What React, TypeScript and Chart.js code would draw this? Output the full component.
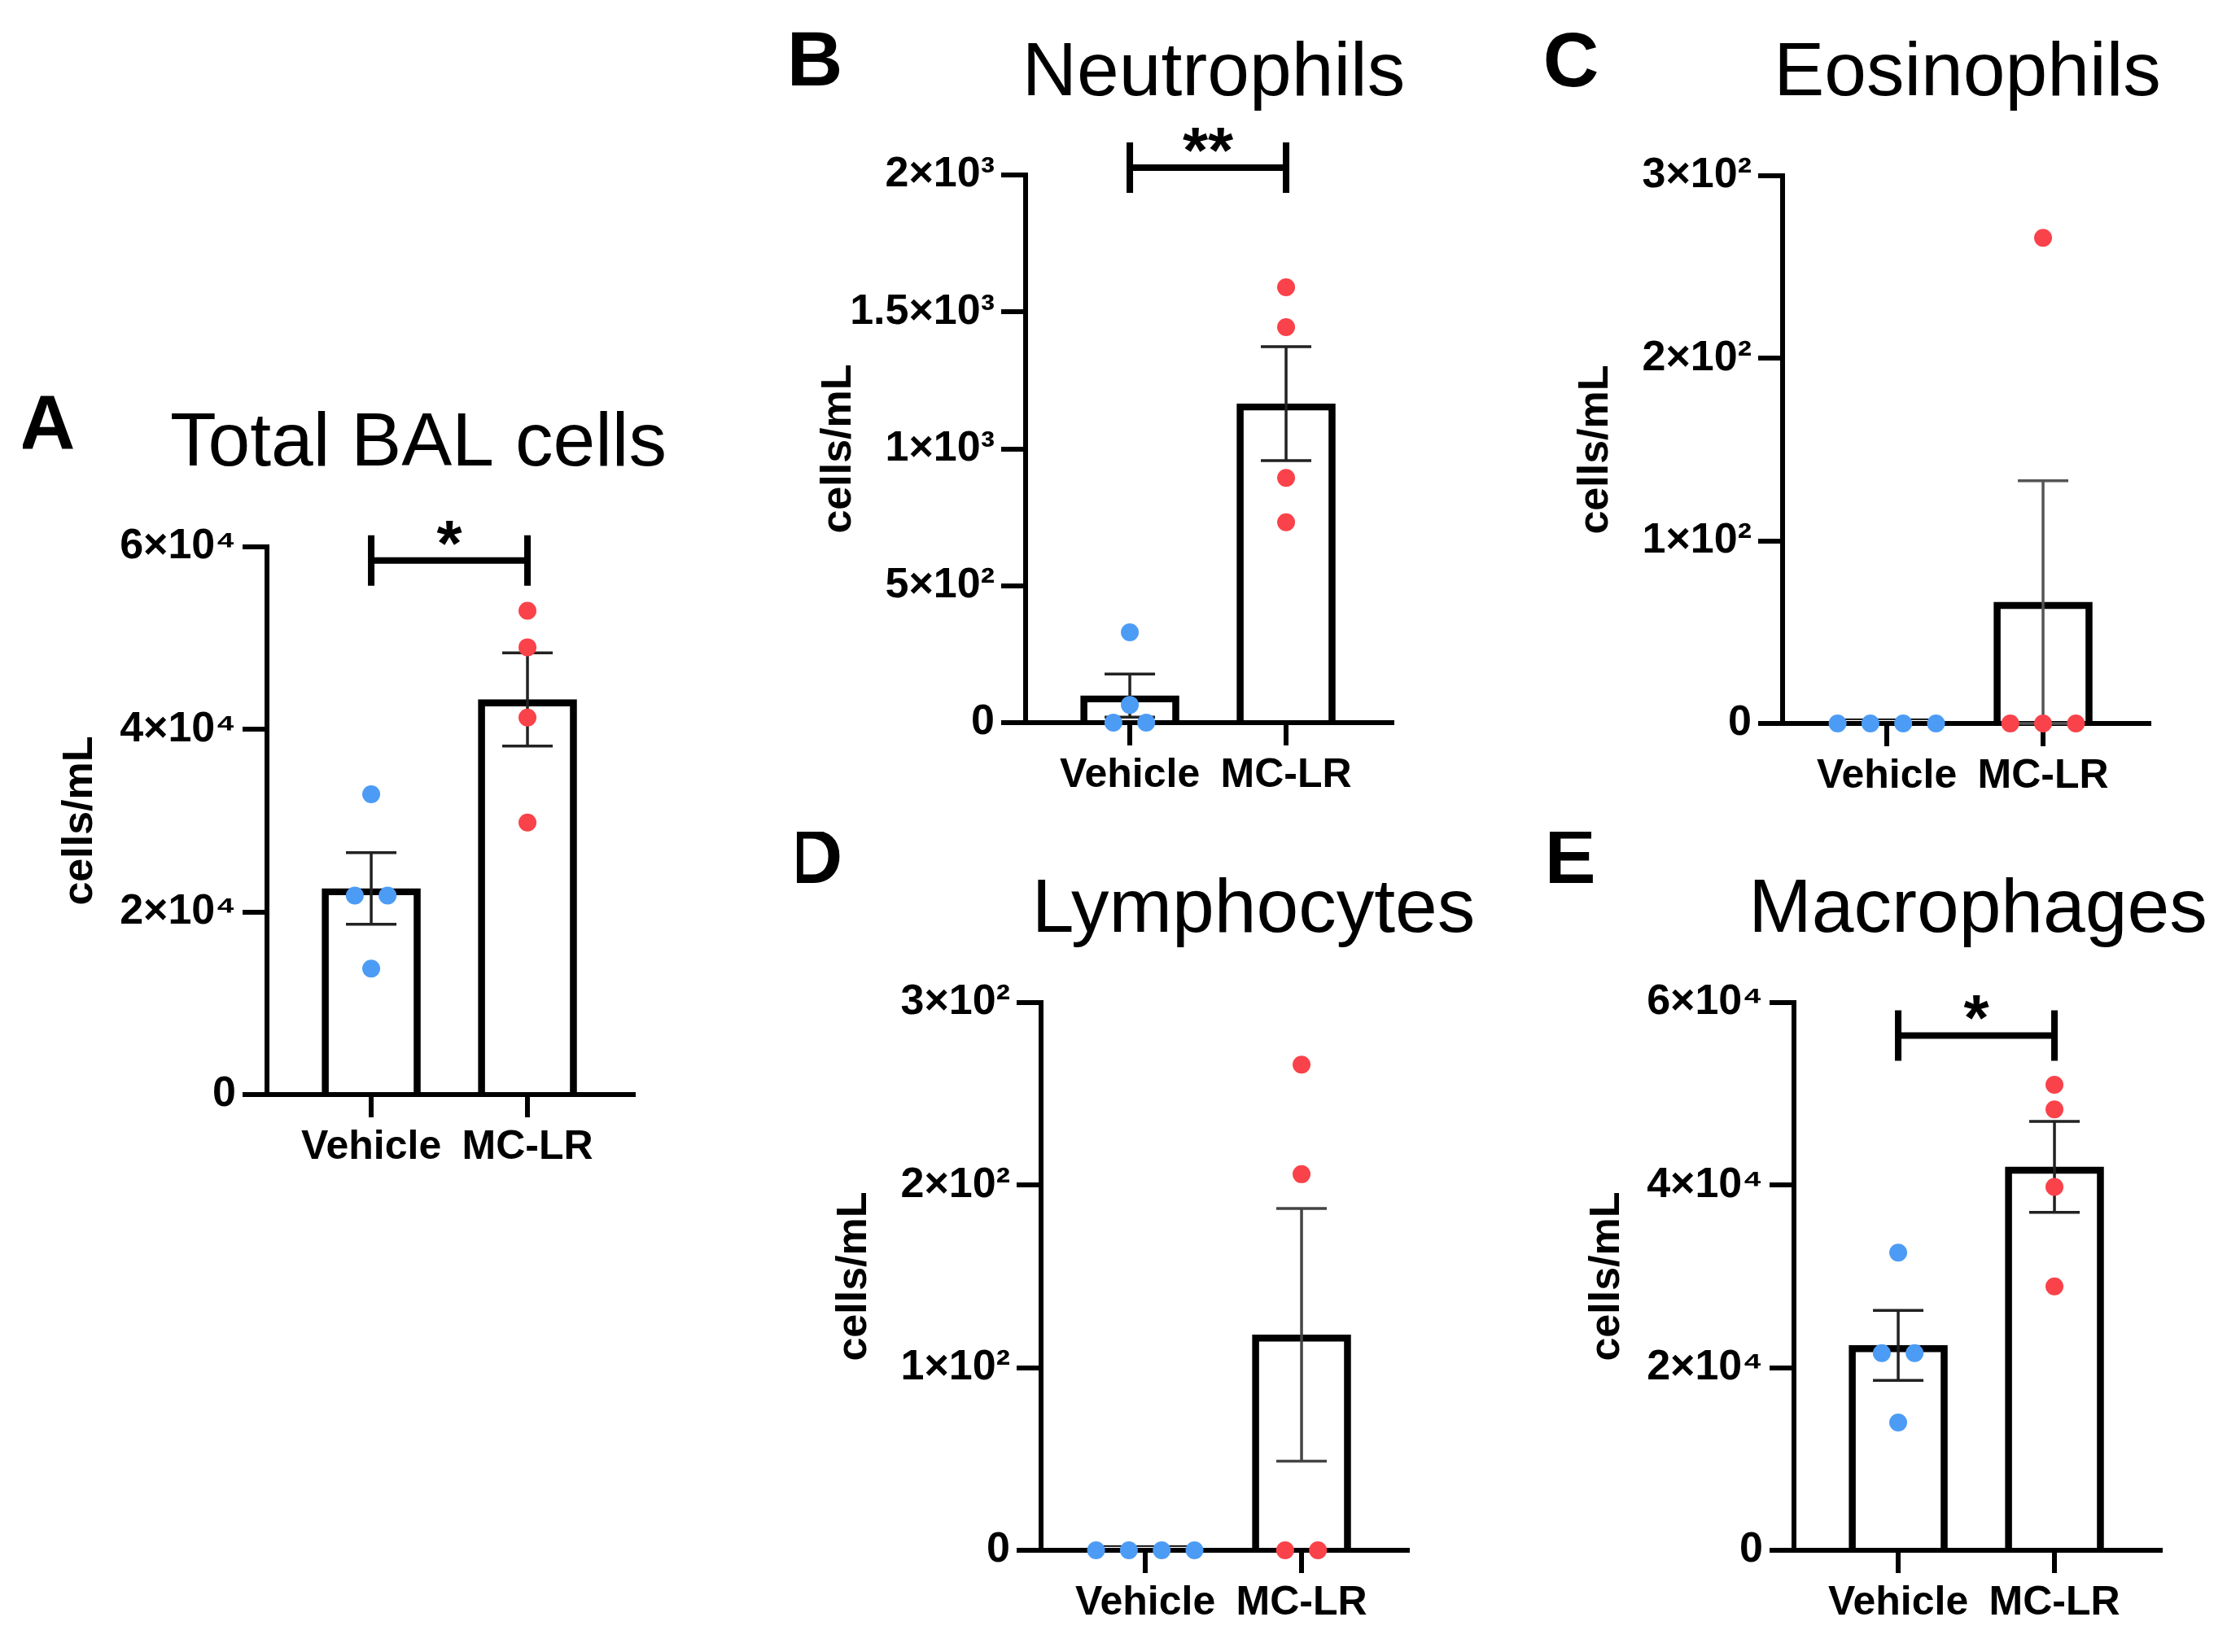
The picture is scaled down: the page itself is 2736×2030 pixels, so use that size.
import React, { useEffect, useRef } from 'react';
import { Chart, registerables } from 'chart.js';

Chart.register(...registerables);

const FONT = '"Liberation Sans", Arial, sans-serif';
Chart.defaults.font.family = FONT;

const groups = ['Vehicle', 'MC-LR'];

// A: Total BAL cells
const totalVehicle = [32900, 21800, 21800, 13800];
const totalMCLR = [53000, 49000, 41300, 29800];
const totalTicks = [0, 20000, 40000, 60000];
const totalTickLabels = ['0', '2×10⁴', '4×10⁴', '6×10⁴'];

// B: Neutrophils
const neutroVehicle = [330, 65, 0, 0];
const neutroMCLR = [1590, 1444, 894, 732];
const neutroTicks = [0, 500, 1000, 1500, 2000];
const neutroTickLabels = ['0', '5×10²', '1×10³', '1.5×10³', '2×10³'];

// C: Eosinophils
const eosVehicle = [0, 0, 0, 0];
const eosMCLR = [266, 0, 0, 0];
const eosTicks = [0, 100, 200, 300];
const eosTickLabels = ['0', '1×10²', '2×10²', '3×10²'];

// D: Lymphocytes
const lymphVehicle = [0, 0, 0, 0];
const lymphMCLR = [266, 206, 0, 0];
const lymphTicks = [0, 100, 200, 300];
const lymphTickLabels = ['0', '1×10²', '2×10²', '3×10²'];

// E: Macrophages
const macroVehicle = [32600, 21600, 21600, 14000];
const macroMCLR = [51000, 48300, 39800, 28900];
const macroTicks = [0, 20000, 40000, 60000];
const macroTickLabels = ['0', '2×10⁴', '4×10⁴', '6×10⁴'];

// significance brackets (level in data units)
const totalSig = { label: '*', level: 58500 };
const neutroSig = { label: '**', level: 2027 };
const macroSig = { label: '*', level: 56400 };

const BLUE = '#4C9CF5';
const RED = '#F9424A';

const mean = (a: number[]) => a.reduce((s, v) => s + v, 0) / a.length;
const sem = (a: number[]) => {
  const m = mean(a);
  const sd = Math.sqrt(a.reduce((s, v) => s + (v - m) ** 2, 0) / (a.length - 1));
  return sd / Math.sqrt(a.length);
};

// spread identical values side by side (like a column scatter)
function spread(values: number[], center: number, step = 0.21) {
  const counts = new Map<number, number>();
  values.forEach((v) => counts.set(v, (counts.get(v) || 0) + 1));
  const seen = new Map<number, number>();
  return values.map((v) => {
    const n = counts.get(v) || 1;
    const k = seen.get(v) || 0;
    seen.set(v, k + 1);
    return { x: center + (k - (n - 1) / 2) * step, y: v };
  });
}

const X_MIN = 0.333;
const X_MAX = 2.677;
const PAD_LEFT = 300;
const PAD_TOP = 210;
const PLOT_W = 450;
const PLOT_H = 673;
const PAD_RIGHT = 130;
const PAD_BOTTOM = 130;
const CW = PAD_LEFT + PLOT_W + PAD_RIGHT;
const CH = PAD_TOP + PLOT_H + PAD_BOTTOM;

type PanelCfg = {
  letter: string;
  title: string;
  vehicle: number[];
  mclr: number[];
  ticks: number[];
  tickLabels: string[];
  sig?: { label: string; level: number };
  axisX: number;
  top: number;
  titleDX: number;
  titleDY: number;
  letterDX: number;
  letterDY: number;
  errColor: string;
};

const panels: PanelCfg[] = [
  { letter: 'A', title: 'Total BAL cells', vehicle: totalVehicle, mclr: totalMCLR, ticks: totalTicks, tickLabels: totalTickLabels, sig: totalSig,
    axisX: 328, top: 672, titleDX: 186, titleDY: -100, letterDX: -270, letterDY: -120, errColor: '#222' },
  { letter: 'B', title: 'Neutrophils', vehicle: neutroVehicle, mclr: neutroMCLR, ticks: neutroTicks, tickLabels: neutroTickLabels, sig: neutroSig,
    axisX: 1260, top: 215, titleDX: 231, titleDY: -98, letterDX: -259, letterDY: -110, errColor: '#222' },
  { letter: 'C', title: 'Eosinophils', vehicle: eosVehicle, mclr: eosMCLR, ticks: eosTicks, tickLabels: eosTickLabels,
    axisX: 2190, top: 216, titleDX: 227, titleDY: -99, letterDX: -260, letterDY: -110, errColor: '#555' },
  { letter: 'D', title: 'Lymphocytes', vehicle: lymphVehicle, mclr: lymphMCLR, ticks: lymphTicks, tickLabels: lymphTickLabels,
    axisX: 1279, top: 1232, titleDX: 261, titleDY: -87, letterDX: -278, letterDY: -147, errColor: '#444' },
  { letter: 'E', title: 'Macrophages', vehicle: macroVehicle, mclr: macroMCLR, ticks: macroTicks, tickLabels: macroTickLabels, sig: macroSig,
    axisX: 2204, top: 1232, titleDX: 226, titleDY: -87, letterDX: -275, letterDY: -147, errColor: '#222' },
];

function buildConfig(cfg: PanelCfg): any {
  const groupData = [cfg.vehicle, cfg.mclr];
  const decor = {
    id: 'panelDecor',
    afterDatasetDraw(chart: any, args: any) {
      if (args.index !== 0) return;
      const { ctx, scales } = chart;
      const x = scales.x, y = scales.y;
      ctx.save();
      ctx.strokeStyle = cfg.errColor;
      ctx.lineWidth = 3.5;
      groupData.forEach((vals, i) => {
        const m = mean(vals);
        const s = sem(vals);
        if (!(s > 0)) return;
        const px = x.getPixelForValue(i + 1);
        const yt = y.getPixelForValue(m + s);
        const yb = y.getPixelForValue(Math.max(0, m - s));
        ctx.beginPath();
        ctx.moveTo(px, yt);
        ctx.lineTo(px, yb);
        ctx.moveTo(px - 31, yt);
        ctx.lineTo(px + 31, yt);
        ctx.moveTo(px - 31, yb);
        ctx.lineTo(px + 31, yb);
        ctx.stroke();
      });
      ctx.restore();
    },
    afterDraw(chart: any) {
      const { ctx, chartArea, scales } = chart;
      const x = scales.x, y = scales.y;
      ctx.save();
      ctx.fillStyle = '#000';
      ctx.textAlign = 'center';
      ctx.textBaseline = 'alphabetic';
      ctx.font = `bold 95px ${FONT}`;
      ctx.fillText(cfg.letter, chartArea.left + cfg.letterDX, chartArea.top + cfg.letterDY);
      ctx.font = `93px ${FONT}`;
      ctx.fillText(cfg.title, chartArea.left + cfg.titleDX, chartArea.top + cfg.titleDY);
      if (cfg.sig) {
        const yb = y.getPixelForValue(cfg.sig.level);
        const x1 = x.getPixelForValue(1);
        const x2 = x.getPixelForValue(2);
        ctx.strokeStyle = '#000';
        ctx.lineWidth = 8;
        ctx.beginPath();
        ctx.moveTo(x1, yb);
        ctx.lineTo(x2, yb);
        ctx.moveTo(x1, yb - 31);
        ctx.lineTo(x1, yb + 31);
        ctx.moveTo(x2, yb - 31);
        ctx.lineTo(x2, yb + 31);
        ctx.stroke();
        ctx.font = `bold 80px ${FONT}`;
        ctx.fillText(cfg.sig.label, (x1 + x2) / 2, yb + 6);
      }
      ctx.restore();
    },
  };

  const gridOpts = (len: number) => ({
    display: true,
    drawOnChartArea: false,
    drawTicks: true,
    tickLength: len,
    lineWidth: 6,
    color: '#000',
    offset: false,
  });

  return {
    type: 'bar',
    data: {
      datasets: [
        {
          type: 'bar',
          data: [
            { x: 1, y: mean(cfg.vehicle) },
            { x: 2, y: mean(cfg.mclr) },
          ],
          backgroundColor: 'rgba(255,255,255,0)',
          borderColor: '#000',
          borderWidth: 8,
          barThickness: 121,
          minBarLength: 6,
          order: 3,
        },
        {
          type: 'scatter',
          data: spread(cfg.vehicle, 1),
          backgroundColor: BLUE,
          borderWidth: 0,
          pointRadius: 11,
          pointHoverRadius: 11,
          clip: false,
          order: 1,
        },
        {
          type: 'scatter',
          data: spread(cfg.mclr, 2),
          backgroundColor: RED,
          borderWidth: 0,
          pointRadius: 11,
          pointHoverRadius: 11,
          clip: false,
          order: 1,
        },
      ],
    },
    options: {
      animation: false,
      responsive: false,
      maintainAspectRatio: false,
      devicePixelRatio: 1,
      events: [],
      layout: { padding: { left: 0, top: PAD_TOP, right: PAD_RIGHT, bottom: 0 } },
      plugins: { legend: { display: false }, tooltip: { enabled: false }, title: { display: false } },
      scales: {
        x: {
          type: 'linear',
          min: X_MIN,
          max: X_MAX,
          offset: false,
          afterBuildTicks: (s: any) => {
            s.ticks = [{ value: 1 }, { value: 2 }];
          },
          afterFit: (s: any) => {
            s.height = PAD_BOTTOM;
          },
          ticks: {
            callback: (_v: any, i: number) => groups[i],
            font: { size: 50, weight: 'bold', family: FONT },
            color: '#000',
            padding: 7,
            maxRotation: 0,
            minRotation: 0,
            autoSkip: false,
          },
          grid: gridOpts(28),
          border: { display: true, width: 6, color: '#000' },
        },
        y: {
          type: 'linear',
          min: 0,
          max: cfg.ticks[cfg.ticks.length - 1],
          afterBuildTicks: (s: any) => {
            s.ticks = cfg.ticks.map((v) => ({ value: v }));
          },
          afterFit: (s: any) => {
            s.width = PAD_LEFT;
          },
          ticks: {
            callback: (_v: any, i: number) => cfg.tickLabels[i],
            font: { size: 52, weight: 'bold', family: FONT },
            color: '#000',
            padding: 8,
            autoSkip: false,
          },
          grid: gridOpts(30),
          border: { display: true, width: 6, color: '#000' },
          title: {
            display: true,
            text: 'cells/mL',
            color: '#000',
            font: { size: 52, weight: 'bold', family: FONT, lineHeight: 1.2 },
            padding: { top: 39, bottom: 0 },
          },
        },
      },
    },
    plugins: [decor],
  };
}

function Panel({ cfg }: { cfg: PanelCfg }) {
  const ref = useRef<HTMLCanvasElement | null>(null);
  useEffect(() => {
    if (!ref.current) return;
    const chart = new Chart(ref.current, buildConfig(cfg));
    return () => chart.destroy();
  }, [cfg]);
  return (
    <canvas
      ref={ref}
      width={CW}
      height={CH}
      style={{ position: 'absolute', left: cfg.axisX - PAD_LEFT, top: cfg.top - PAD_TOP, width: CW, height: CH }}
    />
  );
}

export default function App() {
  return (
    <div
      style={{
        position: 'absolute',
        left: 0,
        top: 0,
        width: 2736,
        height: 2030,
        overflow: 'hidden',
        background: '#fff',
      }}
    >
      {panels.map((p) => (
        <Panel key={p.letter} cfg={p} />
      ))}
    </div>
  );
}
